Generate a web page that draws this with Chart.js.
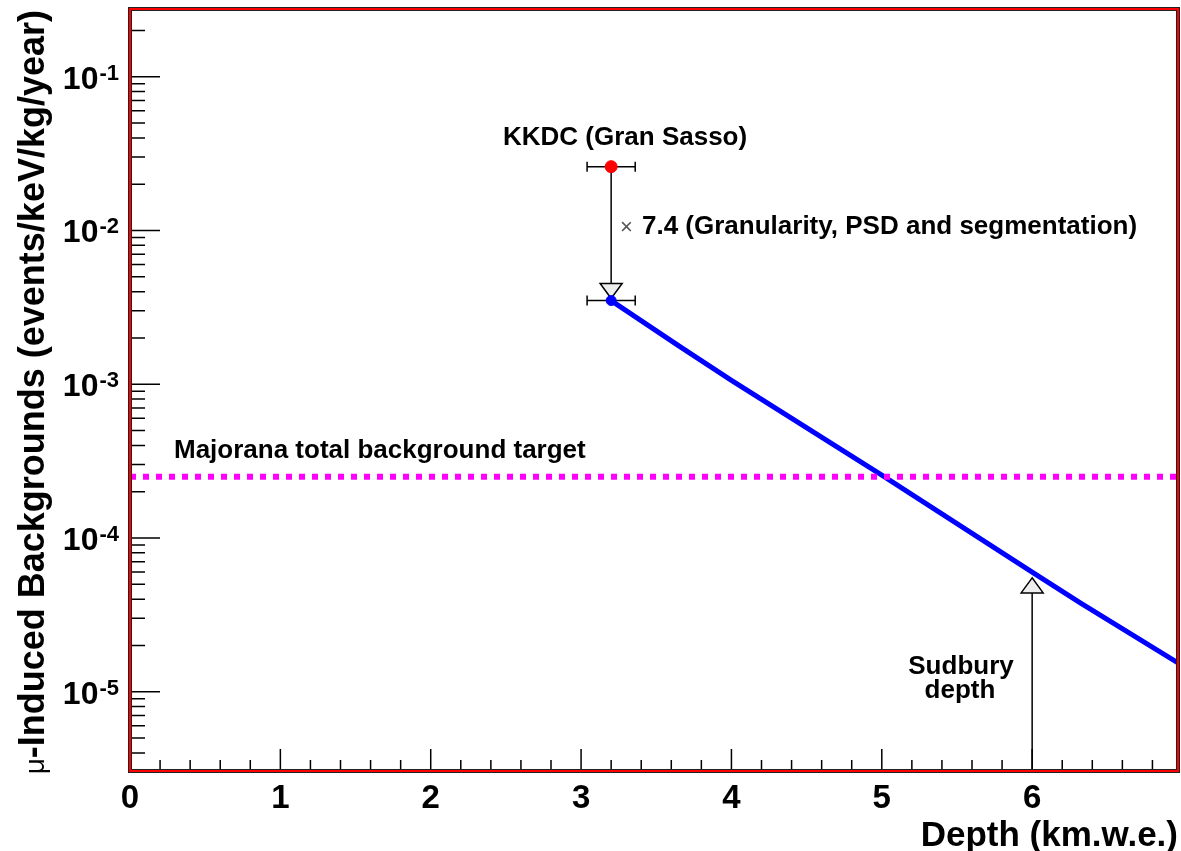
<!DOCTYPE html>
<html>
<head>
<meta charset="utf-8">
<title>Muon-induced backgrounds vs depth</title>
<script src="https://cdn.jsdelivr.net/npm/chart.js@4.4.1/dist/chart.umd.min.js"></script>
<style>
  html, body { margin: 0; padding: 0; background: #fff; }
  canvas { display: block; }
</style>
</head>
<body>
<canvas id="depthChart" width="1181" height="851"></canvas>
<script>
// Depth scan of the mu-induced background (km.w.e. vs events/keV/kg/year)
const depthKm = [3.2, 3.66, 4.0, 5.0, 6.0, 6.32, 6.97];
const muBackground = [3.5e-3, 1.75e-3, 1.06e-3, 2.56e-4, 6.0e-5, 3.78e-5, 1.54e-5];

// KKDC measurement at Gran Sasso and the value after the x7.4 reduction
const kkdcDepth = [3.2];
const kkdcValue = [0.026];
const reducedValue = [3.5e-3];
const depthErr = [0.16];

// Majorana target and Sudbury depth marker
const targetLevel = [2.5e-4, 2.5e-4];
const targetDepth = [0, 6.97];
const sudburyDepth = 6.0;
const sudburyTip = 5.5e-5;

// axis ranges and ticks
const xRange = [0, 6.97];
const yRange = [3.05e-6, 0.2756];
const xMajorTicks = [0, 1, 2, 3, 4, 5, 6];
const yDecades = [-5, -4, -3, -2, -1];

const BOLD = '"Liberation Sans", Arial, Helvetica, sans-serif';

function triangle(ctx, x, tipY, dir) {
    // dir = 1 : points down (tip below base), -1 : points up
    const h = 15, w = 11;
    ctx.beginPath();
    ctx.moveTo(x, tipY);
    ctx.lineTo(x - w, tipY - dir * h);
    ctx.lineTo(x + w, tipY - dir * h);
    ctx.closePath();
    ctx.fillStyle = '#eeeeee';
    ctx.fill();
    ctx.strokeStyle = '#000';
    ctx.lineWidth = 1.5;
    ctx.stroke();
}

const decorations = {
    id: 'decorations',
    beforeDatasetsDraw(chart) {
        const ctx = chart.ctx;
        const xs = chart.scales.x, ys = chart.scales.y;
        ctx.save();
        ctx.strokeStyle = '#000';
        ctx.lineWidth = 1.5;

        // horizontal error bars
        [kkdcValue[0], reducedValue[0]].forEach(v => {
            const y = ys.getPixelForValue(v);
            const x1 = xs.getPixelForValue(kkdcDepth[0] - depthErr[0]);
            const x2 = xs.getPixelForValue(kkdcDepth[0] + depthErr[0]);
            ctx.beginPath();
            ctx.moveTo(x1, y); ctx.lineTo(x2, y);
            ctx.moveTo(x1, y - 5); ctx.lineTo(x1, y + 5);
            ctx.moveTo(x2, y - 5); ctx.lineTo(x2, y + 5);
            ctx.stroke();
        });

        // KKDC reduction arrow
        const kx = xs.getPixelForValue(kkdcDepth[0]);
        const kTop = ys.getPixelForValue(kkdcValue[0]);
        const kTip = ys.getPixelForValue(reducedValue[0]) - 2;
        ctx.beginPath();
        ctx.moveTo(kx, kTop); ctx.lineTo(kx, kTip - 15);
        ctx.stroke();
        triangle(ctx, kx, kTip, 1);

        // Sudbury arrow
        const sx = xs.getPixelForValue(sudburyDepth);
        const sTip = ys.getPixelForValue(sudburyTip);
        ctx.beginPath();
        ctx.strokeStyle = '#000';
        ctx.lineWidth = 1.5;
        ctx.moveTo(sx, chart.chartArea.bottom); ctx.lineTo(sx, sTip + 15);
        ctx.stroke();
        triangle(ctx, sx, sTip, -1);
        ctx.restore();
    },
    afterDraw(chart) {
        const ctx = chart.ctx;
        const a = chart.chartArea;
        const xs = chart.scales.x, ys = chart.scales.y;
        ctx.save();

        // ticks, ROOT style (inside the frame)
        ctx.strokeStyle = '#000';
        ctx.lineWidth = 1.5;
        ctx.beginPath();
        for (let i = 0; i <= 34; i++) {
            const v = i * 0.2;
            if (v > xRange[1]) break;
            const x = xs.getPixelForValue(v);
            const len = (i % 5 === 0) ? 22 : 11;
            ctx.moveTo(x, a.bottom); ctx.lineTo(x, a.bottom - len);
        }
        for (let d = -6; d <= 0; d++) {
            for (let m = 1; m <= 9; m++) {
                const v = m * Math.pow(10, d);
                if (v < yRange[0] || v > yRange[1]) continue;
                const y = ys.getPixelForValue(v);
                const len = (m === 1) ? 30 : 15;
                ctx.moveTo(a.left, y); ctx.lineTo(a.left + len, y);
            }
        }
        ctx.stroke();

        // frame
        ctx.lineWidth = 4;
        ctx.strokeStyle = '#222';
        ctx.strokeRect(a.left, a.top, a.right - a.left, a.bottom - a.top);
        ctx.lineWidth = 2;
        ctx.strokeStyle = '#ff0000';
        ctx.strokeRect(a.left, a.top, a.right - a.left, a.bottom - a.top);

        ctx.fillStyle = '#000';
        // x tick labels
        ctx.font = 'bold 33px ' + BOLD;
        ctx.textAlign = 'center';
        ctx.textBaseline = 'alphabetic';
        xMajorTicks.forEach(t => {
            ctx.fillText(String(t), xs.getPixelForValue(t), 808);
        });

        // y tick labels 10^n
        yDecades.forEach(d => {
            const y = ys.getPixelForValue(Math.pow(10, d));
            ctx.font = 'bold 22px ' + BOLD;
            ctx.textAlign = 'right';
            const sup = String(d);
            const supW = ctx.measureText(sup).width;
            ctx.fillText(sup, 119, y + 3);
            ctx.font = 'bold 32px ' + BOLD;
            ctx.fillText('10', 119 - supW - 1, y + 12);
        });

        // axis titles
        ctx.font = 'bold 35px ' + BOLD;
        ctx.textAlign = 'right';
        ctx.fillText('Depth (km.w.e.)', a.right, 846);

        ctx.save();
        ctx.translate(44, 0);
        ctx.rotate(-Math.PI / 2);
        ctx.textAlign = 'right';
        ctx.font = 'bold 36px ' + BOLD;
        const main = '-Induced Backgrounds (events/keV/kg/year)';
        const mainW = ctx.measureText(main).width;
        ctx.fillText(main, -10, 0);
        ctx.font = '28px ' + BOLD;
        ctx.fillText('\u03bc', -10 - mainW, 0);
        ctx.restore();

        // annotations
        ctx.textAlign = 'left';
        ctx.font = 'bold 26px ' + BOLD;
        ctx.fillText('KKDC (Gran Sasso)', 503, 145);
        ctx.fillText('Majorana total background target', 174, 458);
        ctx.fillText('7.4 (Granularity, PSD and segmentation)', 642, 234);
        ctx.fillStyle = '#555';
        ctx.font = '22px ' + BOLD;
        ctx.fillText('\u00d7', 620, 234);
        ctx.fillStyle = '#000';
        ctx.font = 'bold 26px ' + BOLD;
        ctx.textAlign = 'center';
        ctx.fillText('Sudbury', 961, 674);
        ctx.fillText('depth', 960, 698);
        ctx.restore();
    }
};

const ctx = document.getElementById('depthChart').getContext('2d');
const depthChart = new Chart(ctx, {
    type: 'scatter',
    data: {
        datasets: [
            {
                label: 'Majorana target',
                data: targetDepth.map((x, i) => ({ x: x, y: targetLevel[i] })),
                showLine: true,
                borderColor: '#ff00ff',
                borderWidth: 6,
                borderDash: [6, 7],
                pointRadius: 0
            },
            {
                label: 'mu-induced background',
                data: depthKm.map((x, i) => ({ x: x, y: muBackground[i] })),
                showLine: true,
                borderColor: '#0000ff',
                borderWidth: 5,
                pointRadius: 0,
                tension: 0
            },
            {
                label: 'reduced',
                data: kkdcDepth.map((x, i) => ({ x: x, y: reducedValue[i] })),
                backgroundColor: '#0000ff',
                borderColor: '#0000ff',
                pointRadius: 5
            },
            {
                label: 'KKDC',
                data: kkdcDepth.map((x, i) => ({ x: x, y: kkdcValue[i] })),
                backgroundColor: '#ff0000',
                borderColor: '#ff0000',
                pointRadius: 6
            }
        ]
    },
    options: {
        responsive: false,
        animation: false,
        devicePixelRatio: 1,
        layout: { autoPadding: false, padding: { left: 130, top: 9, right: 3, bottom: 80 } },
        scales: {
            x: { type: 'linear', min: xRange[0], max: xRange[1], display: false },
            y: { type: 'logarithmic', min: yRange[0], max: yRange[1], display: false }
        },
        plugins: {
            legend: { display: false },
            tooltip: { enabled: false }
        }
    },
    plugins: [decorations]
});
</script>
</body>
</html>
